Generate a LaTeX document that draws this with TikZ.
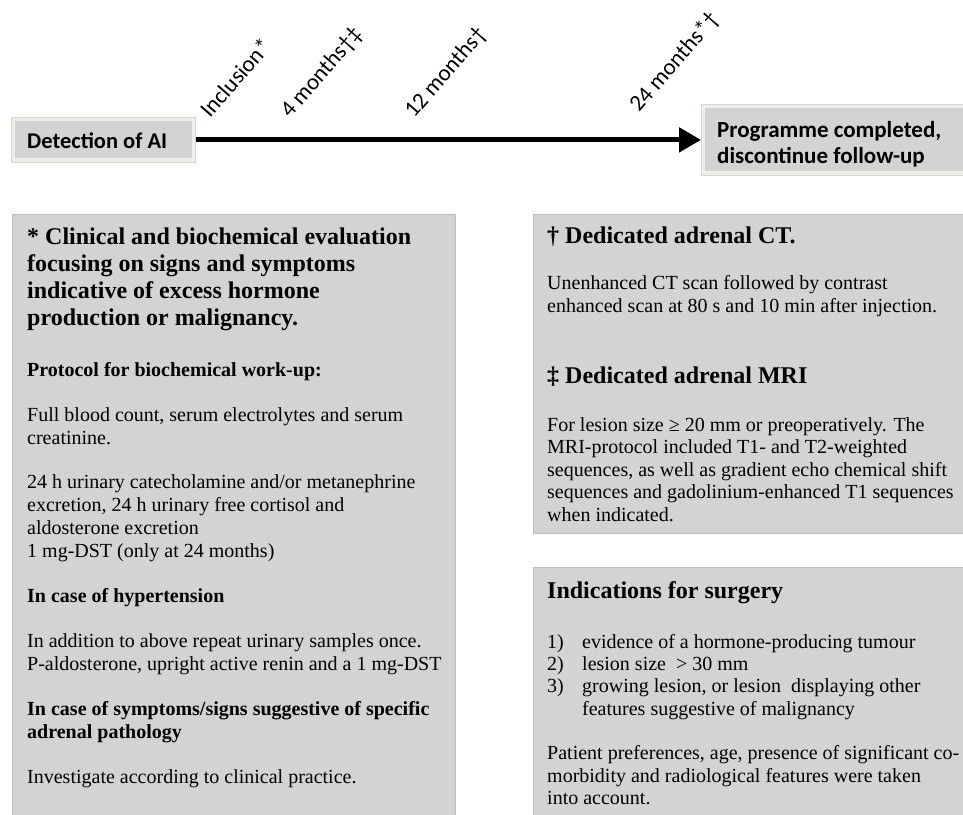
\documentclass[tikz,border=0pt]{standalone}
\usepackage{fontspec}
\setmainfont{Liberation Serif}
\newfontfamily\calib{Carlito}
\usetikzlibrary{arrows.meta}
\definecolor{boxgray}{HTML}{D3D3D3}
\definecolor{boxedge}{HTML}{BDBDBD}
\definecolor{outerfill}{HTML}{EFEFE9}
\definecolor{outeredge}{HTML}{D6D6CE}
\tikzset{
  panel/.style={fill=boxgray, draw=boxedge, line width=0.8pt, anchor=north west, inner sep=0pt},
  outerbox/.style={fill=outerfill, draw=outeredge, line width=0.8pt, anchor=north west, inner sep=0pt},
  innerbox/.style={fill=boxgray, draw=none, inner sep=0pt},
  topt/.style={anchor=base west, inner sep=0pt, font=\calib\bfseries\fontsize{22.5}{26}\selectfont},
  topu/.style={anchor=base west, inner sep=0pt, font=\calib\bfseries\fontsize{23}{26}\selectfont},
  tick/.style={anchor=base west, inner sep=0pt, rotate=49, font=\calib\fontsize{23}{26}\selectfont},
  head/.style={anchor=base west, inner sep=0pt, font=\bfseries\fontsize{24}{27}\selectfont},
  sub/.style={anchor=base west, inner sep=0pt, font=\bfseries\fontsize{20}{23}\selectfont},
  body/.style={anchor=base west, inner sep=0pt, font=\fontsize{20}{23}\selectfont},
}
\begin{document}
\begin{tikzpicture}[x=1pt,y=-1pt]
\useasboundingbox (0,0) rectangle (963,814);

% top boxes
\node[outerbox, minimum width=184pt, minimum height=45pt] (det) at (11,117) {};
\node[innerbox, minimum width=177pt, minimum height=37pt] (detin) at (det.center) {};
\node[topt] (dettext) at (27,148) {Detection of AI};

\node[outerbox, minimum width=270pt, minimum height=71pt] (prog) at (701,104) {};
\node[innerbox, minimum width=262pt, minimum height=63pt] (progin) at (prog.center) {};
\node[topu] (prog1) at (717,137) {Programme completed,};
\node[topu] (prog2) at (717,163) {discontinue follow-up};

\draw[line width=5pt, -{Triangle[length=22pt,width=24pt]}] (det.east) -- (prog.west);

% time labels
\node[tick] (t0) at (210,119) {Inclusion*};
\node[tick] (t4) at (290,119) {4 months†‡};
\node[tick] (t12) at (414,119) {12 months†};
\node[tick] (t24) at (639,113) {24 months*†};

% panels
\node[panel, minimum width=443pt, minimum height=620pt] (left) at (12,214) {};
\node[panel, minimum width=440pt, minimum height=319pt] (rtop) at (533,214) {};
\node[panel, minimum width=440pt, minimum height=260pt] (rbot) at (533,567) {};

% left panel text
\node[head] (l1) at (27,244) {* Clinical and biochemical evaluation};
\node[head] (l2) at (27,271) {focusing on signs and symptoms};
\node[head] (l3) at (27,298) {indicative of excess hormone};
\node[head] (l4) at (27,325) {production or malignancy.};
\node[sub] (l5) at (27,376) {Protocol for biochemical work-up:};
\node[body] (l6) at (27,421) {Full blood count, serum electrolytes and serum};
\node[body] (l7) at (27,444) {creatinine.};
\node[body] (l8) at (27,488) {24 h urinary catecholamine and/or metanephrine};
\node[body] (l9) at (27,511) {excretion, 24 h urinary free cortisol and};
\node[body] (l10) at (27,534) {aldosterone excretion};
\node[body] (l11) at (27,557) {1 mg-DST (only at 24 months)};
\node[sub] (l12) at (27,602) {In case of hypertension};
\node[body] (l13) at (27,647) {In addition to above repeat urinary samples once.};
\node[body] (l14) at (27,670) {P-aldosterone, upright active renin and a 1 mg-DST};
\node[sub] (l15) at (27,715) {In case of symptoms/signs suggestive of specific};
\node[sub] (l16) at (27,738) {adrenal pathology};
\node[body] (l17) at (27,783) {Investigate according to clinical practice.};

% right top text
\node[head] (r1) at (547,243) {† Dedicated adrenal CT.};
\node[body] (r2) at (547,289) {Unenhanced CT scan followed by contrast};
\node[body] (r3) at (547,312) {enhanced scan at 80 s and 10 min after injection.};
\node[head] (r4) at (547,383) {‡ Dedicated adrenal MRI};
\node[body] (r5) at (547,431) {For lesion size ≥ 20 mm or preoperatively. The};
\node[body] (r6) at (547,453) {MRI-protocol included T1- and T2-weighted};
\node[body] (r7) at (547,476) {sequences, as well as gradient echo chemical shift};
\node[body] (r8) at (547,498) {sequences and gadolinium-enhanced T1 sequences};
\node[body] (r9) at (547,521) {when indicated.};

% right bottom text
\node[head] (s1) at (547,598) {Indications for surgery};
\node[body] (n1) at (547,648) {1)};
\node[body] (s2) at (582,648) {evidence of a hormone-producing tumour};
\node[body] (n2) at (547,670) {2)};
\node[body] (s3) at (582,670) {lesion size \ > 30 mm};
\node[body] (n3) at (547,692) {3)};
\node[body] (s4) at (582,692) {growing lesion, or lesion \ displaying other};
\node[body] (s5) at (582,715) {features suggestive of malignancy};
\node[body] (s6) at (547,759) {Patient preferences, age, presence of significant co-};
\node[body] (s7) at (547,782) {morbidity and radiological features were taken};
\node[body] (s8) at (547,804) {into account.};
\end{tikzpicture}
\end{document}
